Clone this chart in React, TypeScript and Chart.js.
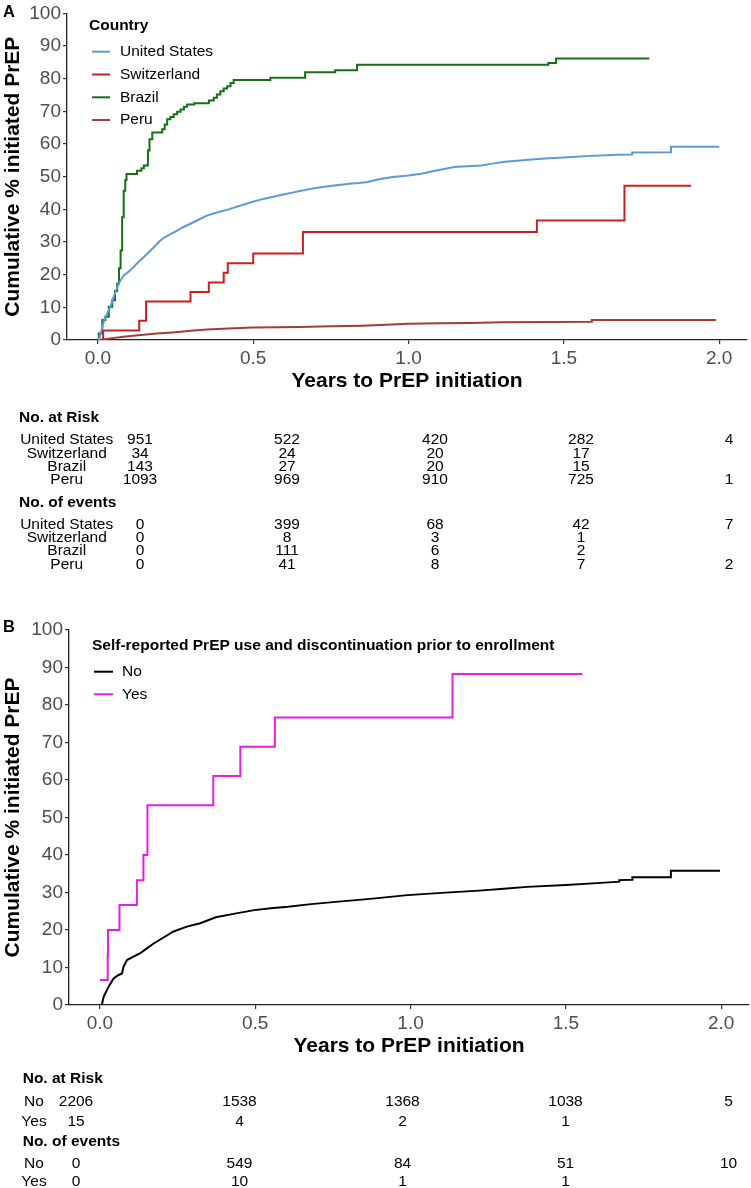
import React, { useEffect, useRef } from "react";
import { Chart, registerables } from "chart.js";

Chart.register(...registerables);

const FONT = "'Liberation Sans', Arial, Helvetica, sans-serif";
const W = 751;

// ---------- axis ticks ----------
const xTickValues = [0, 0.5, 1, 1.5, 2];
const yTickValues = [0, 10, 20, 30, 40, 50, 60, 70, 80, 90, 100];
const X_MIN = -0.0995;
const X_MAX = 2.0895;

// ---------- Panel A: country ----------
const countries = ["United States", "Switzerland", "Brazil", "Peru"];
const countryColors = ["#5B9BD5", "#CC1F1F", "#157015", "#A83A3A"];
const countryStepped = [false, true, true, false];

const usTime = [0, 0.003, 0.02, 0.04, 0.051, 0.067, 0.083, 0.1, 0.115, 0.13, 0.148, 0.165, 0.18, 0.195, 0.212, 0.235, 0.255, 0.275, 0.298, 0.325, 0.351, 0.386, 0.42, 0.46, 0.493, 0.52, 0.547, 0.575, 0.6, 0.63, 0.654, 0.68, 0.707, 0.735, 0.76, 0.79, 0.815, 0.84, 0.868, 0.908, 0.95, 1.0, 1.04, 1.09, 1.147, 1.19, 1.234, 1.27, 1.31, 1.35, 1.385, 1.44, 1.5, 1.572, 1.67, 1.72, 1.72, 1.845, 1.845, 2.0];
const usValue = [0, 0, 6, 10.2, 13.2, 17.3, 19.8, 21, 22.4, 23.9, 25.4, 27, 28.4, 29.9, 31.3, 32.5, 33.5, 34.6, 35.6, 36.9, 38.1, 39.1, 40, 41.2, 42.2, 42.9, 43.5, 44.1, 44.6, 45.2, 45.7, 46.2, 46.6, 47, 47.3, 47.6, 47.9, 48.1, 48.4, 49.3, 49.9, 50.4, 50.9, 51.9, 53.0, 53.2, 53.4, 54.0, 54.6, 54.9, 55.2, 55.6, 55.9, 56.3, 56.7, 56.8, 57.4, 57.5, 59.2, 59.2];

const swTime = [0, 0.017, 0.133, 0.155, 0.298, 0.357, 0.405, 0.418, 0.5, 0.66, 1.413, 1.695, 1.91];
const swValue = [0, 2.9, 5.9, 11.8, 14.7, 17.6, 20.6, 23.5, 26.5, 33.1, 36.6, 47.2, 47.2];

const brTime = [0, 0.003, 0.014, 0.024, 0.035, 0.046, 0.055, 0.062, 0.068, 0.073, 0.078, 0.083, 0.088, 0.092, 0.126, 0.14, 0.148, 0.161, 0.166, 0.175, 0.207, 0.215, 0.223, 0.233, 0.244, 0.255, 0.266, 0.277, 0.287, 0.31, 0.357, 0.373, 0.383, 0.394, 0.405, 0.416, 0.427, 0.437, 0.555, 0.667, 0.764, 0.834, 1.45, 1.475, 1.775];
const brValue = [0, 2, 6.1, 7.1, 10.2, 12.2, 15, 17.3, 22, 27.4, 37.6, 45.7, 49, 50.8, 51.8, 52.6, 53.4, 58, 61.5, 63.5, 64.5, 66, 67.6, 68.3, 69.1, 69.9, 70.6, 71.4, 72.1, 72.5, 73.3, 74.2, 75.2, 76.2, 77, 77.7, 78.7, 79.6, 80.3, 82, 82.6, 84.3, 84.8, 86.2, 86.2];

const peTime = [0, 0.003, 0.04, 0.083, 0.137, 0.19, 0.25, 0.298, 0.351, 0.42, 0.5, 0.58, 0.65, 0.75, 0.85, 0.908, 1.0, 1.1, 1.2, 1.3, 1.45, 1.59, 1.59, 1.99];
const peValue = [0, 0, 0.5, 1.0, 1.5, 2.0, 2.4, 2.8, 3.2, 3.5, 3.8, 3.9, 4.0, 4.2, 4.4, 4.6, 5.0, 5.1, 5.2, 5.4, 5.5, 5.6, 6.1, 6.1];

const riskUS = ["951", "522", "420", "282", "4"];
const riskSwitzerland = ["34", "24", "20", "17", ""];
const riskBrazil = ["143", "27", "20", "15", ""];
const riskPeru = ["1093", "969", "910", "725", "1"];
const eventsUS = ["0", "399", "68", "42", "7"];
const eventsSwitzerland = ["0", "8", "3", "1", ""];
const eventsBrazil = ["0", "111", "6", "2", ""];
const eventsPeru = ["0", "41", "8", "7", "2"];

// ---------- Panel B: prior PrEP use ----------
const priorGroups = ["No", "Yes"];
const priorColors = ["#000000", "#E31FE3"];
const priorStepped = [false, true];

const noTime = [0, 0.006, 0.012, 0.028, 0.044, 0.06, 0.071, 0.076, 0.087, 0.108, 0.13, 0.151, 0.173, 0.205, 0.237, 0.28, 0.323, 0.373, 0.43, 0.497, 0.55, 0.605, 0.68, 0.759, 0.87, 0.99, 1.1, 1.221, 1.3, 1.375, 1.5, 1.6, 1.672, 1.672, 1.714, 1.714, 1.838, 1.838, 1.996];
const noValue = [0, 0, 2.2, 4.9, 7.1, 8, 8.4, 10.2, 12, 12.9, 13.8, 15.1, 16.4, 18, 19.6, 20.9, 21.8, 23.4, 24.3, 25.3, 25.8, 26.2, 26.9, 27.5, 28.3, 29.3, 29.9, 30.5, 31, 31.5, 32, 32.5, 32.9, 33.3, 33.4, 34.1, 34.1, 35.8, 35.8];

const yesTime = [0, 0.025, 0.026, 0.063, 0.119, 0.14, 0.153, 0.365, 0.452, 0.563, 1.135, 1.553];
const yesValue = [6.7, 13.3, 20, 26.7, 33.3, 40, 53.3, 61.1, 68.9, 76.7, 88.3, 88.3];

const riskNo = ["2206", "1538", "1368", "1038", "5"];
const riskYes = ["15", "4", "2", "1", ""];
const eventsNo = ["0", "549", "84", "51", "10"];
const eventsYes = ["0", "10", "1", "1", ""];

type Series = { label: string; color: string; stepped: boolean; t: number[]; v: number[] };

type PanelCfg = {
  top: number;
  height: number;
  letter: string;
  letterY: number;
  area: { left: number; top: number; right: number; bottom: number };
  xTitleY: number;
  yTitleX: number;
  series: Series[];
  legend: { title: string; titleX: number; titleY: number; lineX0: number; lineX1: number; textX: number; rowsY: number[] };
  table: {
    headerX: number;
    labelX: number;
    colX: number[];
    riskHeaderY: number;
    riskRowsY: number[];
    eventsHeaderY: number;
    eventsRowsY: number[];
    labels: string[];
    risk: string[][];
    events: string[][];
  };
};

const panelA: PanelCfg = {
  top: 0,
  height: 590,
  letter: "A",
  letterY: 12,
  area: { left: 67, top: 12, right: 747, bottom: 340 },
  xTitleY: 381,
  yTitleX: 13,
  series: countries.map((label, i) => ({
    label,
    color: countryColors[i],
    stepped: countryStepped[i],
    t: [usTime, swTime, brTime, peTime][i],
    v: [usValue, swValue, brValue, peValue][i],
  })),
  legend: { title: "Country", titleX: 89, titleY: 26, lineX0: 92, lineX1: 110, textX: 120, rowsY: [51.7, 74.5, 97.3, 120] },
  table: {
    headerX: 19,
    labelX: 66.7,
    colX: [140, 287, 435, 581, 729],
    riskHeaderY: 418,
    riskRowsY: [440, 453.3, 466.7, 480],
    eventsHeaderY: 503,
    eventsRowsY: [524.3, 537.7, 551, 564.3],
    labels: countries,
    risk: [riskUS, riskSwitzerland, riskBrazil, riskPeru],
    events: [eventsUS, eventsSwitzerland, eventsBrazil, eventsPeru],
  },
};

const panelB: PanelCfg = {
  top: 590,
  height: 598,
  letter: "B",
  letterY: 37.5,
  area: { left: 69, top: 40, right: 749, bottom: 415 },
  xTitleY: 456,
  yTitleX: 13,
  series: priorGroups.map((label, i) => ({
    label,
    color: priorColors[i],
    stepped: priorStepped[i],
    t: [noTime, yesTime][i],
    v: [noValue, yesValue][i],
  })),
  legend: {
    title: "Self-reported PrEP use and discontinuation prior to enrollment",
    titleX: 92,
    titleY: 56,
    lineX0: 94,
    lineX1: 113,
    textX: 122,
    rowsY: [81.7, 104.3],
  },
  table: {
    headerX: 22.7,
    labelX: 34,
    colX: [76, 239.5, 402.5, 565.5, 728.5],
    riskHeaderY: 488.3,
    riskRowsY: [511.7, 531.7],
    eventsHeaderY: 551.7,
    eventsRowsY: [573.3, 592],
    labels: priorGroups,
    risk: [riskNo, riskYes],
    events: [eventsNo, eventsYes],
  },
};

function makeDecor(cfg: PanelCfg) {
  return {
    id: "decor" + cfg.letter,
    afterDraw(chart: any) {
      const ctx = chart.ctx as CanvasRenderingContext2D;
      ctx.save();
      ctx.textBaseline = "middle";
      // panel letter
      ctx.fillStyle = "#000";
      ctx.textAlign = "left";
      ctx.font = `bold 16.5px ${FONT}`;
      ctx.fillText(cfg.letter, 3, cfg.letterY);

      // legend
      const lg = cfg.legend;
      ctx.font = `bold 15.5px ${FONT}`;
      ctx.fillText(lg.title, lg.titleX, lg.titleY);
      ctx.font = `15.5px ${FONT}`;
      cfg.series.forEach((s, i) => {
        const y = lg.rowsY[i];
        ctx.strokeStyle = s.color;
        ctx.lineWidth = 2;
        ctx.beginPath();
        ctx.moveTo(lg.lineX0, y);
        ctx.lineTo(lg.lineX1, y);
        ctx.stroke();
        ctx.fillStyle = "#000";
        ctx.fillText(s.label, lg.textX, y);
      });

      // tables
      const tb = cfg.table;
      ctx.fillStyle = "#000";
      ctx.textAlign = "left";
      ctx.font = `bold 15.5px ${FONT}`;
      ctx.fillText("No. at Risk", tb.headerX, tb.riskHeaderY);
      ctx.fillText("No. of events", tb.headerX, tb.eventsHeaderY);
      ctx.font = `15.5px ${FONT}`;
      ctx.textAlign = "center";
      const drawRows = (rows: string[][], ys: number[]) => {
        rows.forEach((row, r) => {
          const y = ys[r];
          ctx.fillText(tb.labels[r], tb.labelX, y);
          row.forEach((val, c) => {
            if (val !== "") ctx.fillText(val, tb.colX[c], y);
          });
        });
      };
      drawRows(tb.risk, tb.riskRowsY);
      drawRows(tb.events, tb.eventsRowsY);
      ctx.restore();
    },
  };
}

function Panel({ cfg }: { cfg: PanelCfg }) {
  const ref = useRef<HTMLCanvasElement | null>(null);
  useEffect(() => {
    const canvas = ref.current;
    if (!canvas) return;
    const H = cfg.height;
    const tickFont = { family: FONT, size: 19 };
    const titleFont = { family: FONT, size: 21, weight: "bold" as const };
    const chart = new Chart(canvas, {
      type: "line",
      data: {
        datasets: cfg.series.map((s) => ({
          label: s.label,
          data: s.t.map((x, i) => ({ x, y: s.v[i] })),
          borderColor: s.color,
          backgroundColor: s.color,
          borderWidth: 2,
          pointRadius: 0,
          pointHoverRadius: 0,
          stepped: s.stepped,
          tension: 0,
          fill: false,
        })),
      },
      options: {
        animation: false,
        responsive: false,
        devicePixelRatio: 1,
        layout: { padding: { left: 0, top: cfg.area.top, right: W - cfg.area.right, bottom: 0 } },
        plugins: { legend: { display: false }, tooltip: { enabled: false } },
        scales: {
          x: {
            type: "linear",
            min: X_MIN,
            max: X_MAX,
            afterBuildTicks: (s: any) => {
              s.ticks = xTickValues.map((value) => ({ value }));
            },
            afterFit: (s: any) => {
              s.height = H - cfg.area.bottom;
            },
            ticks: {
              callback: (v: any) => Number(v).toFixed(1),
              color: "#4D4D4D",
              font: tickFont,
              padding: 3,
              maxRotation: 0,
              autoSkip: false,
            },
            grid: { display: true, drawOnChartArea: false, drawTicks: true, tickLength: 4, tickColor: "#333", lineWidth: 1.2 },
            border: { display: true, color: "#222", width: 1.3 },
            title: {
              display: true,
              text: "Years to PrEP initiation",
              color: "#000",
              font: titleFont,
              padding: { top: 0, bottom: H - cfg.xTitleY - 12.6 },
            },
          },
          y: {
            type: "linear",
            min: 0,
            max: 100,
            afterBuildTicks: (s: any) => {
              s.ticks = yTickValues.map((value) => ({ value }));
            },
            afterFit: (s: any) => {
              s.width = cfg.area.left;
            },
            ticks: { color: "#4D4D4D", font: tickFont, padding: 2, autoSkip: false },
            grid: { display: true, drawOnChartArea: false, drawTicks: true, tickLength: 4, tickColor: "#333", lineWidth: 1.2 },
            border: { display: true, color: "#222", width: 1.3 },
            title: {
              display: true,
              text: "Cumulative % initiated PrEP",
              color: "#000",
              font: titleFont,
              padding: { top: Math.max(0, cfg.yTitleX - 12.6), bottom: 0 },
            },
          },
        },
      },
      plugins: [makeDecor(cfg)],
    } as any);
    return () => chart.destroy();
  }, [cfg]);
  return (
    <canvas
      ref={ref}
      width={W}
      height={cfg.height}
      style={{ position: "absolute", left: 0, top: cfg.top, width: W, height: cfg.height }}
    />
  );
}

export default function App() {
  return (
    <div style={{ position: "absolute", left: 0, top: 0, width: W, height: 1188, background: "#fff" }}>
      <Panel cfg={panelA} />
      <Panel cfg={panelB} />
    </div>
  );
}
